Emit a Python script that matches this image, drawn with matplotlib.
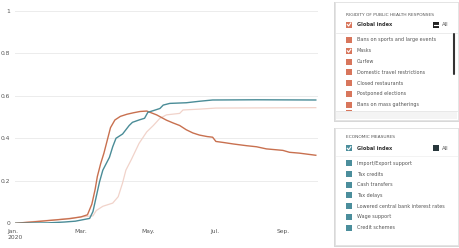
#!/usr/bin/env python3
# plot.py - rigidity of public health responses vs economic measures (global index)

import numpy as np
import matplotlib
matplotlib.use("Agg")
import matplotlib.pyplot as plt
from matplotlib.patches import Rectangle
from matplotlib.lines import Line2D

START = np.datetime64("2020-01-01")

# rigidity of public health responses - global index (orange)
health_days = [0, 20, 35, 50, 60, 66, 70, 73, 75, 78, 81, 84, 87, 91, 96, 102, 108, 114,
               120, 124, 129, 138, 144, 150, 156, 162, 168, 175, 180, 183, 190, 199, 211,
               220, 229, 244, 250, 259, 274]
health_vals = [0, 0.008, 0.015, 0.022, 0.03, 0.04, 0.09, 0.16, 0.22, 0.28, 0.33, 0.39, 0.45,
               0.486, 0.503, 0.513, 0.52, 0.526, 0.528, 0.52, 0.51, 0.485, 0.472, 0.46, 0.44,
               0.425, 0.415, 0.408, 0.405, 0.385, 0.38, 0.373, 0.365, 0.36, 0.35, 0.343,
               0.334, 0.33, 0.32]

# economic measures - global index (teal)
econ_days = [0, 30, 45, 55, 60, 68, 71, 74, 77, 80, 83, 86, 89, 92, 95, 98, 101, 104, 107,
             113, 118, 121, 126, 132, 135, 141, 156, 168, 180, 220, 274]
econ_vals = [0, 0.002, 0.006, 0.01, 0.015, 0.023, 0.055, 0.125, 0.195, 0.25, 0.28, 0.31,
             0.36, 0.40, 0.41, 0.42, 0.44, 0.46, 0.475, 0.486, 0.494, 0.522, 0.53, 0.54,
             0.556, 0.564, 0.567, 0.574, 0.58, 0.581, 0.58]

# masks (faint line)
masks_days = [0, 20, 40, 60, 71, 74, 80, 89, 94, 98, 101, 106, 113, 120, 126, 132, 138,
              150, 153, 168, 183, 274]
masks_vals = [0, 0.01, 0.018, 0.03, 0.035, 0.06, 0.08, 0.095, 0.125, 0.19, 0.25, 0.30,
              0.376, 0.43, 0.46, 0.494, 0.51, 0.517, 0.533, 0.537, 0.542, 0.544]

tick_dates = ["2020-01-01", "2020-03-01", "2020-05-01", "2020-07-01", "2020-09-01"]
tick_labels = ["Jan.\n2020", "Mar.", "May.", "Jul.", "Sep."]
y_ticks = [0, 0.2, 0.4, 0.6, 0.8, 1]
y_labels = ["0", "0.2", "0.4", "0.6", "0.8", "1"]

health_items = ["Bans on sports and large events", "Masks", "Curfew",
                "Domestic travel restrictions", "Closed restaurants",
                "Postponed elections", "Bans on mass gatherings"]
econ_items = ["Import/Export support", "Tax credits", "Cash transfers", "Tax delays",
              "Lowered central bank interest rates", "Wage support", "Credit schemes"]

ORANGE = "#c8704f"
TEAL = "#4a8c97"
FAINT = "#f1d3ca"
BOX_OR = "#d8765c"
BOX_TE = "#4b8e9c"
TXT = "#555555"

W, H = 460, 248


def dates(days):
    return START + np.array(days).astype("timedelta64[D]")


def fx(x):
    return x / W


def fy(y):
    return 1 - y / H


fig = plt.figure(figsize=(4.6, 2.48), dpi=100)
ax = fig.add_axes([fx(15), fy(223.3), fx(318) - fx(15), fy(10.7) - fy(223.3)])

ax.plot(dates(masks_days), masks_vals, color=FAINT, lw=0.9)
ax.plot(dates(health_days), health_vals, color=ORANGE, lw=1.0)
ax.plot(dates(econ_days), econ_vals, color=TEAL, lw=1.0)

ax.set_ylim(0, 1)
ax.set_xlim(START, START + np.timedelta64(276, "D"))
ax.set_yticks(y_ticks)
ax.set_yticklabels(y_labels)
ax.set_xticks([np.datetime64(d) for d in tick_dates])
ax.set_xticklabels(tick_labels, ha="center")
ax.tick_params(length=0, labelsize=4.3, labelcolor=TXT)
ax.tick_params(axis="y", pad=3.5)
ax.tick_params(axis="x", pad=4)
for lbl in ax.get_xticklabels():
    lbl.set_multialignment("left")
ax.grid(axis="y", color="#ececec", lw=0.7)
ax.set_axisbelow(True)
for s in ax.spines.values():
    s.set_visible(False)


def panel(top, bottom):
    # shadow then white box
    fig.patches.append(Rectangle((fx(334), fy(bottom + 1.5)), fx(125), fy(top) - fy(bottom + 1.5),
                                 transform=fig.transFigure, facecolor="#d8d8d8",
                                 edgecolor="none", zorder=1))
    fig.patches.append(Rectangle((fx(335), fy(bottom)), fx(123), fy(top) - fy(bottom),
                                 transform=fig.transFigure, facecolor="white",
                                 edgecolor="#e2e2e2", lw=0.5, zorder=2))


def checkbox(x, y, color, checked=False, size=6):
    fig.patches.append(Rectangle((fx(x), fy(y + size / 2)), fx(size), fy(0) - fy(size),
                                 transform=fig.transFigure, facecolor=color,
                                 edgecolor="none", zorder=3))
    if checked:
        fig.lines.append(Line2D([fx(x + 1.3), fx(x + 2.6), fx(x + 4.8)],
                                [fy(y), fy(y + 1.5), fy(y - 1.6)],
                                transform=fig.transFigure, color="white", lw=0.8, zorder=4))


def text(x, y, s, size=3.5, weight="normal", color=TXT):
    fig.text(fx(x), fy(y), s, fontsize=size, fontweight=weight, color=color,
             ha="left", va="center", zorder=5)


# panel 1 - rigidity of public health responses
panel(2, 120)
text(346, 14.7, "RIGIDITY OF PUBLIC HEALTH RESPONSES", size=3.2)
checkbox(346, 24.5, BOX_OR, checked=True)
text(357, 24.5, "Global index", size=3.6, weight="bold", color="#333333")
fig.patches.append(Rectangle((fx(433), fy(27.5)), fx(6), fy(0) - fy(6),
                             transform=fig.transFigure, facecolor="#222222",
                             edgecolor="none", zorder=3))
fig.lines.append(Line2D([fx(434.3), fx(437.7)], [fy(24.5), fy(24.5)],
                        transform=fig.transFigure, color="white", lw=0.8, zorder=4))
text(442, 24.5, "All", size=3.8)
fig.lines.append(Line2D([fx(336), fx(457)], [fy(32.7), fy(32.7)],
                        transform=fig.transFigure, color="#e4e4e4", lw=0.5, zorder=3))
for i, item in enumerate(health_items):
    yy = 40 + i * 10.8
    checkbox(346, yy, BOX_OR, checked=(item == "Masks"))
    text(357, yy, item)
checkbox(346, 113, BOX_OR)
fig.patches.append(Rectangle((fx(336), fy(119)), fx(121), fy(111) - fy(119),
                             transform=fig.transFigure, facecolor="#f4f4f4",
                             edgecolor="none", zorder=4))
fig.lines.append(Line2D([fx(336), fx(457)], [fy(111), fy(111)],
                        transform=fig.transFigure, color="#e6e6e6", lw=0.6, zorder=5))
fig.lines.append(Line2D([fx(454), fx(454)], [fy(34), fy(74)],
                        transform=fig.transFigure, color="#333333", lw=1.5, zorder=5,
                        solid_capstyle="round"))

# panel 2 - economic measures
panel(128, 245)
text(346, 136.7, "ECONOMIC MEASURES", size=3.2)
checkbox(346, 148.3, BOX_TE, checked=True)
text(357, 148.3, "Global index", size=3.6, weight="bold", color="#333333")
fig.patches.append(Rectangle((fx(433), fy(151.3)), fx(6), fy(0) - fy(6),
                             transform=fig.transFigure, facecolor="#27363b",
                             edgecolor="none", zorder=3))
text(442, 148.3, "All", size=3.8)
fig.lines.append(Line2D([fx(336), fx(457)], [fy(155.5), fy(155.5)],
                        transform=fig.transFigure, color="#eeeeee", lw=0.5, zorder=3))
for i, item in enumerate(econ_items):
    yy = 163.3 + i * 10.7
    checkbox(346, yy, BOX_TE)
    text(357, yy, item)

fig.savefig("out.png", dpi=100)
